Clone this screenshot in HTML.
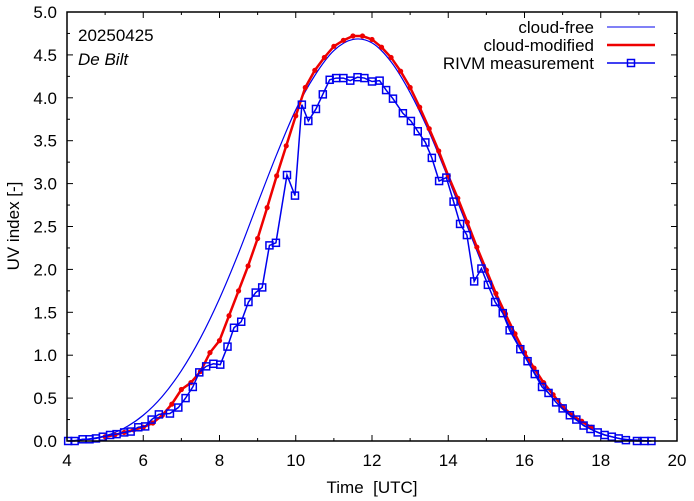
<!DOCTYPE html>
<html><head><meta charset="utf-8"><style>
body{margin:0;background:#fff}
svg{font-family:"Liberation Sans",sans-serif;display:block}
</style></head><body>
<svg id="chart" width="694" height="501" viewBox="0 0 694 501" xmlns="http://www.w3.org/2000/svg">
<rect width="694" height="501" fill="#fff"/>
<g id="grid"></g>
<g id="series"></g>
<rect x="67" y="12" width="610" height="429" fill="none" stroke="#000" stroke-width="1.5"/>
<text x="78" y="41" font-size="17">20250425</text>
<text x="78" y="65" font-size="17" font-style="italic">De Bilt</text>
<g font-size="17" text-anchor="end">
<text x="594" y="33">cloud-free</text>
<line x1="607" y1="27" x2="655" y2="27" stroke="#0000ee" stroke-width="1"/>
<text x="594" y="51">cloud-modified</text>
<line x1="607" y1="45" x2="655" y2="45" stroke="#ee0000" stroke-width="2.5"/>
<text x="594" y="69">RIVM measurement</text>
<line x1="607" y1="63" x2="655" y2="63" stroke="#0000ee" stroke-width="1.5"/>
<rect x="627.5" y="59.5" width="7" height="7" fill="none" stroke="#0000ee" stroke-width="1.5"/>
</g>
<text x="372" y="493" font-size="17" text-anchor="middle" xml:space="preserve">Time  [UTC]</text>
<text x="0" y="0" font-size="17" text-anchor="middle" transform="translate(19,226) rotate(-90)">UV index  [-]</text>
</svg>
<script>
const xTicks=[4,6,8,10,12,14,16,18,20];
const yTicks=[0,0.5,1,1.5,2,2.5,3,3.5,4,4.5,5];
const yTickLabels=["0.0","0.5","1.0","1.5","2.0","2.5","3.0","3.5","4.0","4.5","5.0"];
const clearTimes=[4,4.5,5,5.5,6,6.5,7,7.5,8,8.5,9,9.5,10,10.5,11,11.5,12,12.5,13,13.5,14,14.5,15,15.5,16,16.5,17,17.5,18,18.5,19,19.3];
const clearValues=[0,0.02,0.06,0.15,0.3,0.52,0.82,1.2,1.66,2.19,2.77,3.34,3.86,4.26,4.55,4.68,4.64,4.42,4.06,3.6,3.06,2.5,1.94,1.43,0.99,0.64,0.37,0.2,0.09,0.03,0.01,0];
const modTimes=[5,5.25,5.5,5.75,6,6.25,6.5,6.75,7,7.25,7.5,7.75,8,8.25,8.5,8.75,9,9.25,9.5,9.75,10,10.25,10.5,10.75,11,11.25,11.5,11.75,12,12.25,12.5,12.75,13,13.25,13.5,13.75,14,14.25,14.5,14.75,15,15.25,15.5,15.75,16,16.25,16.5,16.75,17,17.25,17.5,17.75];
const modValues=[0.05,0.07,0.1,0.13,0.16,0.21,0.3,0.43,0.6,0.68,0.81,1.03,1.17,1.46,1.75,2.04,2.36,2.72,3.09,3.44,3.79,4.12,4.32,4.47,4.6,4.67,4.72,4.72,4.68,4.59,4.47,4.31,4.12,3.89,3.64,3.38,3.09,2.83,2.55,2.26,1.99,1.72,1.48,1.25,1.03,0.85,0.68,0.54,0.4,0.3,0.23,0.16];
const measTimes=[4.03,4.2,4.41,4.59,4.76,4.94,5.13,5.3,5.5,5.67,5.87,6.05,6.22,6.41,6.7,6.92,7.11,7.3,7.47,7.65,7.84,8.02,8.21,8.38,8.57,8.76,8.95,9.12,9.31,9.48,9.77,9.98,10.16,10.33,10.53,10.71,10.89,11.06,11.25,11.43,11.62,11.8,12.0,12.2,12.37,12.55,12.81,13.02,13.2,13.4,13.57,13.76,13.95,14.14,14.31,14.49,14.68,14.87,15.04,15.23,15.43,15.61,15.89,16.08,16.27,16.46,16.63,16.83,17.0,17.19,17.36,17.55,17.73,17.92,18.1,18.29,18.47,18.66,18.95,19.15,19.33];
const measValues=[0,0,0.02,0.02,0.03,0.05,0.07,0.08,0.1,0.11,0.16,0.17,0.25,0.31,0.32,0.39,0.5,0.63,0.8,0.87,0.9,0.89,1.1,1.32,1.39,1.62,1.73,1.79,2.28,2.31,3.1,2.86,3.92,3.73,3.87,4.04,4.21,4.23,4.23,4.2,4.24,4.23,4.19,4.2,4.09,3.99,3.82,3.73,3.61,3.48,3.3,3.03,3.07,2.79,2.53,2.4,1.86,2.01,1.82,1.62,1.49,1.29,1.07,0.93,0.78,0.63,0.56,0.45,0.38,0.3,0.25,0.18,0.14,0.1,0.07,0.05,0.03,0.01,0,0,0];

const NS='http://www.w3.org/2000/svg';
const X0=67,X1=677,Y0=441,Y1=12;
function xs(t){return X0+(t-4)/16*(X1-X0);}
function ys(v){return Y0-v/5*(Y0-Y1);}
function mk(tag,attrs,parent){const e=document.createElementNS(NS,tag);for(const k in attrs)e.setAttribute(k,attrs[k]);parent.appendChild(e);return e;}
const grid=document.getElementById('grid');
const series=document.getElementById('series');
for(let h=4;h<=20;h++){
  const major=h%2===0,len=major?6:3,x=xs(h);
  const t1=mk('line',{x1:x,y1:Y0,x2:x,y2:Y0-len,stroke:'#000','stroke-width':1},grid);
  
  
  const t2=mk('line',{x1:x,y1:Y1,x2:x,y2:Y1+len,stroke:'#000','stroke-width':1},grid);
  
  
}
xTicks.forEach(h=>{
  const t=mk('text',{x:xs(h),y:466,'font-size':17,'text-anchor':'middle'},grid);
  t.textContent=h;
  
  
});
for(let i=0;i<=20;i++){
  const v=i*0.25,major=i%2===0,len=major?6:3,y=ys(v);
  const t1=mk('line',{x1:X0,y1:y,x2:X0+len,y2:y,stroke:'#000','stroke-width':1},grid);
  
  
  const t2=mk('line',{x1:X1,y1:y,x2:X1-len,y2:y,stroke:'#000','stroke-width':1},grid);
  
  
}
yTicks.forEach((v,i)=>{
  const t=mk('text',{x:57,y:ys(v)+6,'font-size':17,'text-anchor':'end'},grid);
  t.textContent=yTickLabels[i];
  
  
});
function smooth(ts,vs){
  const p=ts.map((t,i)=>[xs(t),ys(vs[i])]);
  let d='M'+p[0][0]+' '+p[0][1];
  for(let i=0;i<p.length-1;i++){
    const a=p[i-1]||p[i],b=p[i],c=p[i+1],e=p[i+2]||c;
    const c1=[b[0]+(c[0]-a[0])/6,b[1]+(c[1]-a[1])/6];
    const c2=[c[0]-(e[0]-b[0])/6,c[1]-(e[1]-b[1])/6];
    d+=' C'+c1[0]+' '+c1[1]+' '+c2[0]+' '+c2[1]+' '+c[0]+' '+c[1];
  }
  return d;
}
const cf=mk('path',{d:smooth(clearTimes,clearValues),fill:'none',stroke:'#0000ee','stroke-width':1.2},series);


const cm=mk('polyline',{points:modTimes.map((t,i)=>xs(t)+','+ys(modValues[i])).join(' '),fill:'none',stroke:'#ee0000','stroke-width':2.5},series);


modTimes.forEach((t,i)=>{
  const c=mk('circle',{cx:xs(t),cy:ys(modValues[i]),r:2.6,fill:'#ee0000'},series);
  
  
});
const ml=mk('polyline',{points:measTimes.map((t,i)=>xs(t)+','+ys(measValues[i])).join(' '),fill:'none',stroke:'#0000ee','stroke-width':1.5},series);


measTimes.forEach((t,i)=>{
  const r=mk('rect',{x:xs(t)-3.5,y:ys(measValues[i])-3.5,width:7,height:7,fill:'none',stroke:'#0000ee','stroke-width':1.5},series);
  
  
});
</script>
</body></html>
